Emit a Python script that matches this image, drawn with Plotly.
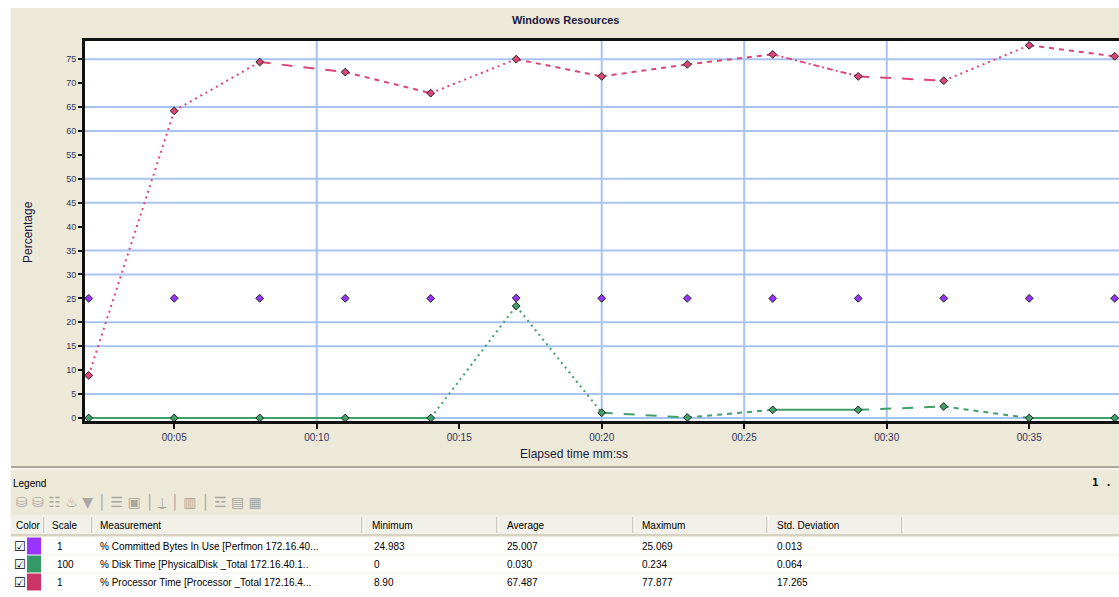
import plotly.graph_objects as go

# ---------------- data ----------------
time_s = [2, 5, 8, 11, 14, 17, 20, 23, 26, 29, 32, 35, 38]
committed_bytes = [25.0, 25.02, 25.01, 25.0, 24.99, 25.07, 25.01, 25.0, 24.98, 25.0, 25.02, 25.01, 25.0]
disk_time_x100 = [0, 0, 0, 0, 0, 23.4, 1.1, 0.1, 1.7, 1.7, 2.4, 0, 0]
processor_time = [8.9, 64.2, 74.4, 72.3, 67.9, 75.0, 71.4, 73.9, 76.0, 71.4, 70.5, 77.9, 75.6]

x_tick_vals = [5, 10, 15, 20, 25, 30, 35]
x_tick_text = ["00:05", "00:10", "00:15", "00:20", "00:25", "00:30", "00:35"]
y_tick_vals = list(range(0, 80, 5))
x_grid_visible = [10, 20, 25, 30]
y_grid_visible = [0, 5, 15, 20, 30, 35, 45, 50, 60, 65, 75]

# per-segment line styles as rendered in the original
proc_dash = ["dot", "dot", "long", "dash", "dot", "dash", "dash", "dash", "dashdot", "long", "dot", "dash"]
disk_dash = ["solid", "solid", "solid", "solid", "dot", "dot", "long", "dash", "solid", "long", "dash", "solid"]

legend_header = ["Color", "Scale", "Measurement", "Minimum", "Average", "Maximum", "Std. Deviation"]
legend_scale = ["1", "100", "1"]
legend_measure = ["% Committed Bytes In Use [Perfmon 172.16.40...",
                  "% Disk Time [PhysicalDisk _Total 172.16.40.1..",
                  "% Processor Time [Processor _Total 172.16.4..."]
legend_min = ["24.983", "0", "8.90"]
legend_avg = ["25.007", "0.030", "67.487"]
legend_max = ["25.069", "0.234", "77.877"]
legend_std = ["0.013", "0.064", "17.265"]

# ---------------- style ----------------
W, H = 1119, 597
ML, MR, MT, MB = 85, 0, 41, 176
PW, PH = W - ML - MR, H - MT - MB

def px(x):
    return (x - ML) / PW

def py(y):
    return (H - MB - y) / PH

BEIGE = "#ECE9D8"
GRID = "#A9C3F0"
C_PURPLE = "#9933FF"
C_GREEN = "#339966"
C_RED = "#CC3366"
L_GREEN = "#3FA06A"
L_RED = "#DC4676"
DASHES = {"solid": "solid", "dot": "2px,4px", "dash": "5px,5px",
          "long": "11px,11px", "dashdot": "6px,3px,2px,3px"}

fig = go.Figure()

def add_segments(xs, ys, styles, color):
    for i, st in enumerate(styles):
        fig.add_trace(go.Scatter(x=xs[i:i + 2], y=ys[i:i + 2], mode="lines",
                                 line=dict(color=color, width=2, dash=DASHES[st]),
                                 showlegend=False, hoverinfo="skip"))

add_segments(time_s, disk_time_x100, disk_dash, L_GREEN)
add_segments(time_s, processor_time, proc_dash, L_RED)

for ys, col, name in [(committed_bytes, C_PURPLE, "% Committed Bytes In Use"),
                      (disk_time_x100, L_GREEN, "% Disk Time"),
                      (processor_time, L_RED, "% Processor Time")]:
    fig.add_trace(go.Scatter(x=time_s, y=ys, mode="markers", name=name,
                             marker=dict(symbol="diamond", size=6, color=col,
                                         line=dict(color="#222222", width=1)),
                             cliponaxis=False, showlegend=False))

shapes = []
# window background strips
shapes.append(dict(type="rect", xref="paper", yref="paper", x0=px(0), x1=px(W), y0=py(8), y1=py(0),
                   fillcolor="white", line_width=0, layer="below"))
shapes.append(dict(type="rect", xref="paper", yref="paper", x0=px(0), x1=px(11), y0=py(H), y1=py(0),
                   fillcolor="white", line_width=0, layer="below"))
# gridlines
for v in x_grid_visible:
    shapes.append(dict(type="line", xref="x", yref="paper", x0=v, x1=v, y0=0, y1=1,
                       line=dict(color=GRID, width=2), layer="below"))
for v in y_grid_visible:
    shapes.append(dict(type="line", xref="paper", yref="y", x0=0, x1=1, y0=v, y1=v,
                       line=dict(color=GRID, width=2), layer="below"))
# separator between chart and legend
shapes.append(dict(type="line", xref="paper", yref="paper", x0=px(11), x1=px(W), y0=py(467), y1=py(467),
                   line=dict(color="#ACA899", width=2)))
shapes.append(dict(type="line", xref="paper", yref="paper", x0=px(11), x1=px(W), y0=py(469), y1=py(469),
                   line=dict(color="#FFFFFF", width=1)))
# legend header and body
shapes.append(dict(type="rect", xref="paper", yref="paper", x0=px(11), x1=px(W), y0=py(536), y1=py(515),
                   fillcolor="#F2F1E9", line_width=0))
shapes.append(dict(type="line", xref="paper", yref="paper", x0=px(11), x1=px(W), y0=py(535), y1=py(535),
                   line=dict(color="#D6D2C2", width=2)))
shapes.append(dict(type="rect", xref="paper", yref="paper", x0=px(11), x1=px(W), y0=py(H), y1=py(537),
                   fillcolor="white", line_width=0))
col_edges = [44, 92, 362, 497, 633, 767, 902]
for cx in col_edges:
    shapes.append(dict(type="line", xref="paper", yref="paper", x0=px(cx), x1=px(cx), y0=py(533), y1=py(517),
                       line=dict(color="#ACA899", width=1)))
    shapes.append(dict(type="line", xref="paper", yref="paper", x0=px(cx + 1), x1=px(cx + 1), y0=py(533), y1=py(517),
                       line=dict(color="#FFFFFF", width=1)))

row_y = [546, 564, 582]
row_colors = [C_PURPLE, C_GREEN, C_RED]
for i, ry in enumerate(row_y):
    shapes.append(dict(type="rect", xref="paper", yref="paper", x0=px(27), x1=px(41),
                       y0=py(ry + 8.5), y1=py(ry - 8.5), fillcolor=row_colors[i], line_width=0))
    if i < 2:
        shapes.append(dict(type="line", xref="paper", yref="paper", x0=px(44), x1=px(W),
                           y0=py(ry + 9), y1=py(ry + 9), line=dict(color="#EFEDE2", width=1)))

annotations = []
FONT = "Liberation Sans, DejaVu Sans, sans-serif"

def note(x, y, text, size=10, color="black", anchor="left", bold=False, angle=0, family=FONT):
    if bold:
        text = "<b>" + text + "</b>"
    annotations.append(dict(xref="paper", yref="paper", x=px(x), y=py(y), text=text, showarrow=False,
                            xanchor=anchor, yanchor="middle", textangle=angle,
                            font=dict(family=family, size=size, color=color)))

note(565, 20, "Windows Resources", size=11, color="#1a1a40", anchor="center", bold=True)
note(574, 454, "Elapsed time mm:ss", size=12, color="#1a1a40", anchor="center")
note(28, 232, "Percentage", size=12, color="#1a1a40", anchor="center", angle=-90)
note(11, 483, "Legend", size=10)
note(1114, 482, "1 .", size=11, bold=True, anchor="right", family="DejaVu Sans Mono, monospace")
note(14, 502, "⛁ ⛁ ☷ ♨ ▼ │ ☰ ▣ │ ⍊ │ ▥ │ ☲ ▤ ▦", size=14, color="#A8A6A0", family="DejaVu Sans")

header_x = [14, 50, 98, 370, 505, 640, 775]
for hx, ht in zip(header_x, legend_header):
    note(hx, 525, ht, size=10)

for i, ry in enumerate(row_y):
    note(12, ry, "☑", size=13, family="DejaVu Sans")
    note(55, ry, legend_scale[i])
    note(98, ry, legend_measure[i])
    note(372, ry, legend_min[i])
    note(505, ry, legend_avg[i])
    note(640, ry, legend_max[i])
    note(775, ry, legend_std[i])

fig.update_layout(
    width=W, height=H,
    margin=dict(l=ML, r=MR, t=MT, b=MB, pad=0),
    paper_bgcolor=BEIGE, plot_bgcolor="white",
    showlegend=False,
    shapes=shapes, annotations=annotations,
    xaxis=dict(range=[1.87, 38.15], tickvals=x_tick_vals, ticktext=x_tick_text,
               showgrid=False, zeroline=False, showline=True, linecolor="#111111", linewidth=3,
               mirror=True, ticks="outside", ticklen=5, tickwidth=2, tickcolor="#111111",
               tickfont=dict(family=FONT, size=10, color="#33335a")),
    yaxis=dict(range=[-0.63, 78.8], tickvals=y_tick_vals,
               showgrid=False, zeroline=False, showline=True, linecolor="#111111", linewidth=3,
               ticks="outside", ticklen=4, tickwidth=2, tickcolor="#111111",
               tickfont=dict(family=FONT, size=9, color="#33335a")),
)

fig.write_html("out.html", config={"displayModeBar": False},
               post_script="document.body.style.margin='0px';document.body.style.overflow='hidden';")
